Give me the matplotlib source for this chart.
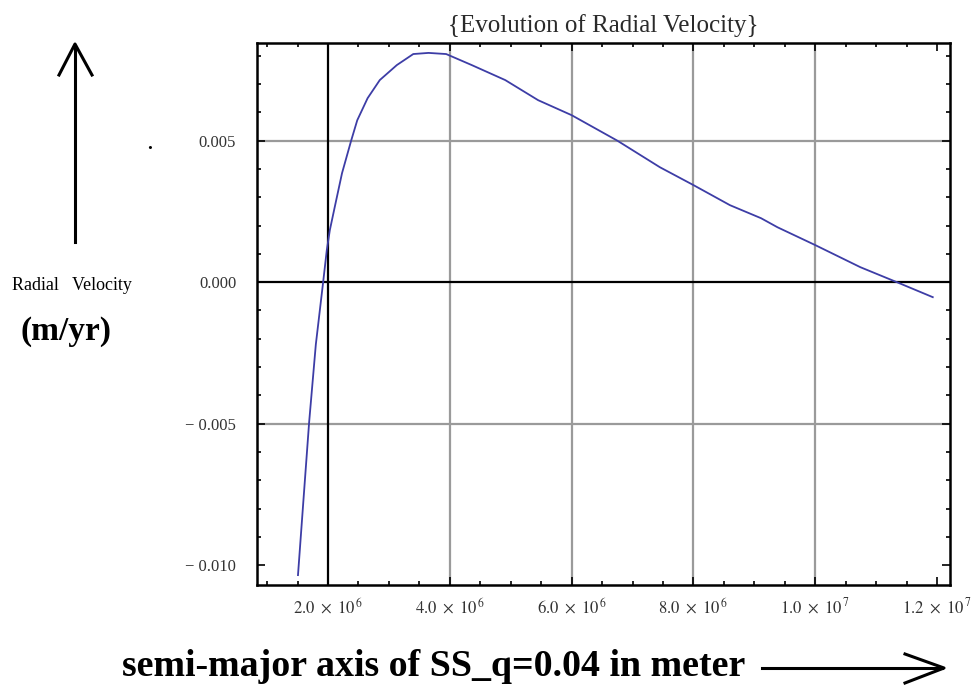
import numpy as np
import matplotlib.pyplot as plt
from matplotlib.ticker import FixedLocator

# semi-major axis (1e6 m) and radial velocity (1e-3 m/yr)
axis_1e6 = [1.507, 1.60, 1.69, 1.80, 1.92, 1.98, 2.03, 2.11, 2.23, 2.38, 2.48,
            2.65, 2.85, 3.13, 3.40, 3.65, 3.94, 4.36, 4.91, 5.45, 6.0, 6.75,
            7.45, 8.0, 8.6, 9.11, 9.38, 10.0, 10.74, 11.34, 11.93]
vel_1e3 = [-10.35, -7.6, -4.95, -2.2, 0.0, 1.13, 1.84, 2.65, 3.85, 5.0, 5.72,
           6.5, 7.14, 7.67, 8.06, 8.10, 8.06, 7.67, 7.14, 6.43, 5.9, 5.0,
           4.06, 3.43, 2.72, 2.26, 1.94, 1.31, 0.53, 0.0, -0.53]

xticks = [2e6, 4e6, 6e6, 8e6, 1e7, 1.2e7]
xlabels = [r'$2.0\ \times\ 10^{\,6}$', r'$4.0\ \times\ 10^{\,6}$', r'$6.0\ \times\ 10^{\,6}$',
           r'$8.0\ \times\ 10^{\,6}$', r'$1.0\ \times\ 10^{\,7}$', r'$1.2\ \times\ 10^{\,7}$']
yticks = [-0.010, -0.005, 0.0, 0.005]
ylabels = ['\u2212 0.010', '\u2212 0.005', '0.000', '0.005']

plt.rcParams['font.family'] = 'Liberation Serif'
plt.rcParams['mathtext.fontset'] = 'stix'

W, H = 974, 690
fig = plt.figure(figsize=(W / 100, H / 100), dpi=100)
ax = fig.add_axes([257 / W, 1 - 585 / H, (950 - 257) / W, (585 - 43) / H])

a = np.array(axis_1e6) * 1e6
v = np.array(vel_1e3) * 1e-3

# grid like Mathematica's GridLines
for gx in xticks[1:5]:
    ax.axvline(gx, color='#9a9a9a', lw=1.6, zorder=1)
for gy in [-0.005, 0.005]:
    ax.axhline(gy, color='#9a9a9a', lw=1.6, zorder=1)
ax.axvline(2e6, color='black', lw=1.6, zorder=2)
ax.axhline(0.0, color='black', lw=1.6, zorder=2)

ax.plot(a, v, color='#3d3da6', lw=1.3, zorder=3)

ax.set_xlim(0.834e6, 1.2213e7)
ax.set_ylim(-0.0107, 0.00845)

ax.set_xticks(xticks)
ax.set_xticklabels(xlabels, fontsize=12, color='#333333')
ax.xaxis.set_minor_locator(FixedLocator(np.arange(1.0e6, 1.22e7, 0.5e6)))
ax.set_yticks(yticks)
ax.set_yticklabels(ylabels, fontsize=12, color='#333333')
ax.yaxis.set_minor_locator(FixedLocator(np.arange(-0.010, 0.0085, 0.001)))
ax.tick_params(which='both', direction='in', top=True, right=True, width=1.2)
ax.tick_params(which='major', length=6)
ax.tick_params(axis='x', which='major', pad=9)
ax.tick_params(axis='y', which='major', pad=15)
ax.tick_params(which='minor', length=3)
for s in ax.spines.values():
    s.set_linewidth(1.8)

ax.set_title('{Evolution of Radial Velocity}', fontsize=18, pad=8, color='#2a2a2a')

def fx(px):
    return px / W

def fy(py):
    return 1 - py / H

# left arrow and labels
fig.add_artist(plt.Line2D([fx(75), fx(75)], [fy(242), fy(46)], color='black', lw=2.2))
fig.add_artist(plt.Line2D([fx(59), fx(75), fx(92)], [fy(75), fy(44), fy(75)],
                          color='black', lw=2.2))
fig.text(fx(72), fy(286), 'Radial   Velocity', fontsize=13, ha='center', va='center')
fig.text(fx(66), fy(331), '(m/yr)', fontsize=24, fontweight='bold', ha='center', va='center')
fig.text(fx(150), fy(153), '.', fontsize=14, fontweight='bold', ha='center', va='bottom')

# bottom label and arrow
fig.text(fx(122), fy(667), 'semi-major axis of SS_q=0.04 in meter', fontsize=27.3,
         fontweight='bold', ha='left', va='center')
fig.add_artist(plt.Line2D([fx(762), fx(942)], [fy(668), fy(668)], color='black', lw=2.2))
fig.add_artist(plt.Line2D([fx(905), fx(944), fx(905)], [fy(654), fy(668), fy(683)],
                          color='black', lw=2.2))

fig.savefig('out.png', dpi=100)
